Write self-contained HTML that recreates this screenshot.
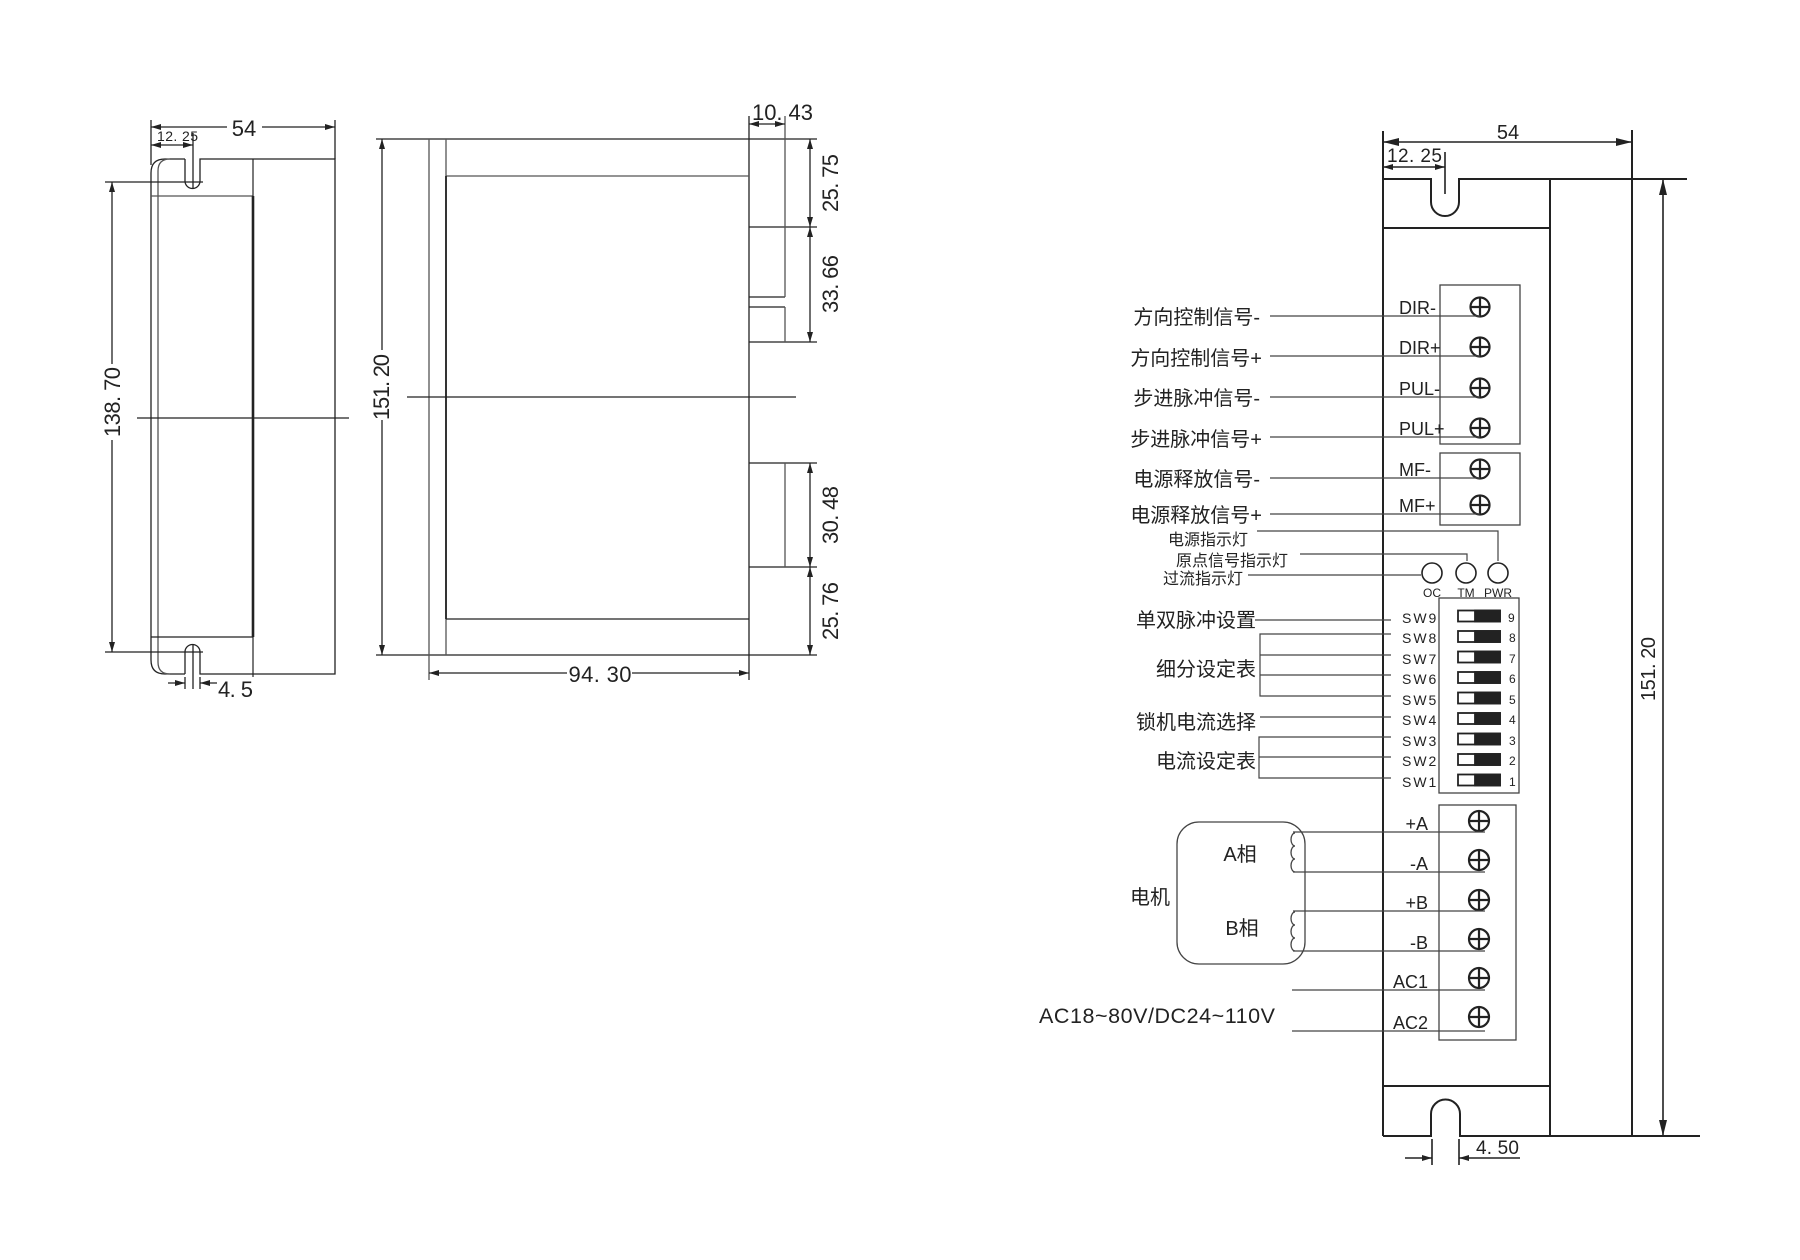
<!DOCTYPE html>
<html><head><meta charset="utf-8"><style>
html,body{margin:0;padding:0;background:#fff;}
svg{display:block}
text{font-family:"Liberation Sans","Noto Sans CJK SC",sans-serif;fill:#222}
.d{font-family:"Liberation Sans Narrow","Liberation Sans",sans-serif}
</style></head><body>
<svg width="1800" height="1260" viewBox="0 0 1800 1260" xmlns="http://www.w3.org/2000/svg">
<defs>
<marker id="a" viewBox="0 0 10 6" refX="10" refY="3" markerWidth="10" markerHeight="6" markerUnits="userSpaceOnUse" orient="auto-start-reverse"><path d="M0,0 L10,3 L0,6 z" fill="#222"/></marker>
<marker id="b" viewBox="0 0 16 8" refX="16" refY="4" markerWidth="16" markerHeight="8" markerUnits="userSpaceOnUse" orient="auto-start-reverse"><path d="M0,0 L16,4 L0,8 z" fill="#222"/></marker>
</defs>
<g fill="none" stroke="#222" stroke-width="1.3">
<!-- LEFT VIEW -->
<path d="M185,159 L165,159 Q151,159 151,173 L151,660 Q151,674 165,674 L185,674"/>
<path d="M170,159 Q158,159 158,171 L158,662 Q158,674 170,674" stroke="#555"/>
<path d="M185,159 L185,181 A7.5,7.5 0 0 0 200,181 L200,159 L335,159 L335,674 L200,674 L200,652 A7.5,7.5 0 0 0 185,652 L185,674"/>
<line x1="151" y1="196" x2="253" y2="196" stroke="#555"/>
<line x1="151" y1="637" x2="253" y2="637"/>
<line x1="253" y1="159" x2="253" y2="677" stroke-width="1.2"/>
<line x1="253" y1="196" x2="253" y2="637" stroke-width="2.6"/>
<line x1="193" y1="133" x2="193" y2="188"/>
<line x1="193" y1="645" x2="193" y2="689"/>
<line x1="151" y1="120" x2="151" y2="165"/>
<line x1="335" y1="120" x2="335" y2="159"/>
<line x1="151" y1="127" x2="227" y2="127" marker-start="url(#a)"/>
<line x1="262" y1="127" x2="335" y2="127" marker-end="url(#a)"/>
<line x1="151" y1="145" x2="193" y2="145" marker-start="url(#a)" marker-end="url(#a)"/>
<line x1="105" y1="182" x2="203" y2="182"/>
<line x1="105" y1="652" x2="203" y2="652"/>
<line x1="112" y1="182" x2="112" y2="364" marker-start="url(#a)"/>
<line x1="112" y1="440" x2="112" y2="652" marker-end="url(#a)"/>
<line x1="137" y1="418" x2="349" y2="418"/>
<line x1="168" y1="683" x2="185" y2="683" marker-end="url(#a)"/>
<line x1="217" y1="683" x2="200" y2="683" marker-end="url(#a)"/>
<line x1="185" y1="677" x2="185" y2="689"/>
<line x1="200" y1="677" x2="200" y2="689"/>

<!-- MIDDLE VIEW -->
<line x1="376" y1="139" x2="817" y2="139"/>
<line x1="376" y1="655" x2="817" y2="655"/>
<line x1="429" y1="139" x2="429" y2="680" stroke="#555"/>
<line x1="446" y1="139" x2="446" y2="655" stroke="#555"/>
<line x1="749" y1="116" x2="749" y2="680"/>
<line x1="446" y1="176" x2="749" y2="176" stroke="#555"/>
<line x1="446" y1="619" x2="749" y2="619"/>
<line x1="446" y1="176" x2="446" y2="619" stroke-width="1.8"/>
<line x1="407" y1="397" x2="796" y2="397"/>
<line x1="749" y1="227" x2="817" y2="227"/>
<line x1="749" y1="297" x2="785" y2="297"/>
<line x1="749" y1="307" x2="785" y2="307"/>
<line x1="749" y1="342" x2="817" y2="342"/>
<line x1="785" y1="116" x2="785" y2="297" stroke="#555"/>
<line x1="785" y1="307" x2="785" y2="342" stroke="#555"/>
<line x1="749" y1="463" x2="817" y2="463"/>
<line x1="749" y1="567" x2="817" y2="567"/>
<line x1="785" y1="463" x2="785" y2="567" stroke="#555"/>
<line x1="749" y1="124" x2="785" y2="124" marker-start="url(#a)" marker-end="url(#a)"/>
<line x1="810" y1="139" x2="810" y2="227" marker-start="url(#a)" marker-end="url(#a)"/>
<line x1="810" y1="227" x2="810" y2="342" marker-start="url(#a)" marker-end="url(#a)"/>
<line x1="810" y1="463" x2="810" y2="567" marker-start="url(#a)" marker-end="url(#a)"/>
<line x1="810" y1="567" x2="810" y2="655" marker-start="url(#a)" marker-end="url(#a)"/>
<line x1="382" y1="139" x2="382" y2="350" marker-start="url(#a)"/>
<line x1="382" y1="420" x2="382" y2="655" marker-end="url(#a)"/>
<line x1="429" y1="673" x2="567" y2="673" marker-start="url(#a)"/>
<line x1="632" y1="673" x2="749" y2="673" marker-end="url(#a)"/>

<!-- RIGHT VIEW -->
<path d="M1383,1136 L1383,179 L1431,179 L1431,202 A14,14 0 0 0 1459,202 L1459,179 L1687,179" stroke-width="2"/>
<path d="M1383,1136 L1431,1136 L1431,1114 A14.5,14.5 0 0 1 1460,1114 L1460,1136 L1700,1136" stroke-width="2"/>
<line x1="1383" y1="228" x2="1550" y2="228" stroke-width="2"/>
<line x1="1383" y1="1086" x2="1550" y2="1086" stroke-width="2"/>
<line x1="1550" y1="179" x2="1550" y2="1136" stroke-width="2"/>
<line x1="1632" y1="130" x2="1632" y2="1136" stroke-width="2"/>
<line x1="1663" y1="179" x2="1663" y2="1136" stroke-width="1.6" marker-start="url(#b)" marker-end="url(#b)"/>
<line x1="1383" y1="131" x2="1383" y2="179" stroke-width="2"/>
<line x1="1383" y1="142" x2="1632" y2="142" stroke-width="1.6" marker-start="url(#b)" marker-end="url(#b)"/>
<line x1="1445" y1="152" x2="1445" y2="194" stroke-width="1.6"/>
<line x1="1383" y1="167" x2="1445" y2="167" stroke-width="1.4" marker-start="url(#a)" marker-end="url(#a)"/>
<line x1="1432" y1="1139" x2="1432" y2="1165" stroke-width="1.6"/>
<line x1="1459" y1="1139" x2="1459" y2="1165" stroke-width="1.6"/>
<line x1="1405" y1="1158" x2="1432" y2="1158" stroke-width="1.6" marker-end="url(#a)"/>
<line x1="1520" y1="1158" x2="1459" y2="1158" stroke-width="1.6" marker-end="url(#a)"/>

<!-- terminal blocks -->
<rect x="1440" y="285" width="80" height="159" stroke="#444"/>
<rect x="1440" y="453" width="80" height="72" stroke="#444"/>
<rect x="1439" y="598" width="80" height="195" stroke="#444"/>
<rect x="1439" y="805" width="77" height="235" stroke="#444"/>
<g stroke-width="2.2">
<circle cx="1480" cy="307" r="9.5"/><path d="M1470.5,307 H1489.5 M1480,297.5 V316.5"/>
<circle cx="1480" cy="347" r="9.5"/><path d="M1470.5,347 H1489.5 M1480,337.5 V356.5"/>
<circle cx="1480" cy="388" r="9.5"/><path d="M1470.5,388 H1489.5 M1480,378.5 V397.5"/>
<circle cx="1480" cy="428" r="9.5"/><path d="M1470.5,428 H1489.5 M1480,418.5 V437.5"/>
<circle cx="1480" cy="469" r="9.5"/><path d="M1470.5,469 H1489.5 M1480,459.5 V478.5"/>
<circle cx="1480" cy="505" r="9.5"/><path d="M1470.5,505 H1489.5 M1480,495.5 V514.5"/>
<circle cx="1479" cy="821" r="10"/><path d="M1469,821 H1489 M1479,811 V831"/>
<circle cx="1479" cy="860" r="10"/><path d="M1469,860 H1489 M1479,850 V870"/>
<circle cx="1479" cy="900" r="10"/><path d="M1469,900 H1489 M1479,890 V910"/>
<circle cx="1479" cy="939" r="10"/><path d="M1469,939 H1489 M1479,929 V949"/>
<circle cx="1479" cy="978" r="10"/><path d="M1469,978 H1489 M1479,968 V988"/>
<circle cx="1479" cy="1017" r="10"/><path d="M1469,1017 H1489 M1479,1007 V1027"/>
</g>
<g stroke="#444" stroke-width="1.2">
<line x1="1270" y1="316" x2="1480" y2="316"/>
<line x1="1270" y1="356" x2="1480" y2="356"/>
<line x1="1270" y1="397" x2="1480" y2="397"/>
<line x1="1270" y1="437" x2="1480" y2="437"/>
<line x1="1270" y1="478" x2="1480" y2="478"/>
<line x1="1270" y1="514" x2="1480" y2="514"/>
<path d="M1257,531 H1498 V561"/>
<path d="M1300,554 H1467 V561"/>
<line x1="1248" y1="575" x2="1421" y2="575"/>
<line x1="1255" y1="620" x2="1391" y2="620"/>
<path d="M1391,634 H1260 V696 H1391 M1260,655 H1391 M1260,675 H1391"/>
<line x1="1260" y1="717" x2="1391" y2="717"/>
<path d="M1391,737 H1259 V778 H1391 M1259,757 H1391"/>
<line x1="1293" y1="832" x2="1485" y2="832"/>
<line x1="1293" y1="872" x2="1485" y2="872"/>
<line x1="1293" y1="911" x2="1485" y2="911"/>
<line x1="1293" y1="951" x2="1485" y2="951"/>
<line x1="1292" y1="990" x2="1485" y2="990"/>
<line x1="1292" y1="1031" x2="1485" y2="1031"/>
</g>
<g stroke-width="1.6">
<circle cx="1432" cy="573" r="10"/>
<circle cx="1466" cy="573" r="10"/>
<circle cx="1498" cy="573" r="10"/>
</g>
<rect x="1177" y="822" width="128" height="142" rx="22" stroke="#444"/>
<path d="M1295,833 a4,6.5 0 0 0 0,13 a4,6.5 0 0 0 0,13 a4,6.5 0 0 0 0,13" stroke="#444"/>
<path d="M1295,912 a4,6.5 0 0 0 0,13 a4,6.5 0 0 0 0,13 a4,6.5 0 0 0 0,13" stroke="#444"/>
</g>
<g stroke="#222" stroke-width="1.8">
<rect x="1458" y="610.5" width="42" height="11" fill="#fff"/><rect x="1475" y="610.5" width="25" height="11" fill="#222"/>
<rect x="1458" y="631" width="42" height="11" fill="#fff"/><rect x="1475" y="631" width="25" height="11" fill="#222"/>
<rect x="1458" y="651.5" width="42" height="11" fill="#fff"/><rect x="1475" y="651.5" width="25" height="11" fill="#222"/>
<rect x="1458" y="672" width="42" height="11" fill="#fff"/><rect x="1475" y="672" width="25" height="11" fill="#222"/>
<rect x="1458" y="692.5" width="42" height="11" fill="#fff"/><rect x="1475" y="692.5" width="25" height="11" fill="#222"/>
<rect x="1458" y="713" width="42" height="11" fill="#fff"/><rect x="1475" y="713" width="25" height="11" fill="#222"/>
<rect x="1458" y="733.5" width="42" height="11" fill="#fff"/><rect x="1475" y="733.5" width="25" height="11" fill="#222"/>
<rect x="1458" y="754" width="42" height="11" fill="#fff"/><rect x="1475" y="754" width="25" height="11" fill="#222"/>
<rect x="1458" y="774.5" width="42" height="11" fill="#fff"/><rect x="1475" y="774.5" width="25" height="11" fill="#222"/>
</g>

<text class="d" x="244" y="136" font-size="22" text-anchor="middle">54</text>
<text class="d" x="157" y="141" font-size="14" textLength="41">12. 25</text>
<text class="d" transform="translate(120,402) rotate(-90)" font-size="22" text-anchor="middle" textLength="70">138. 70</text>
<text class="d" x="218" y="697" font-size="22" textLength="35">4. 5</text>
<text class="d" x="752" y="120" font-size="22" textLength="61">10. 43</text>
<text class="d" transform="translate(838,183) rotate(-90)" font-size="22" text-anchor="middle" textLength="58">25. 75</text>
<text class="d" transform="translate(838,284) rotate(-90)" font-size="22" text-anchor="middle" textLength="58">33. 66</text>
<text class="d" transform="translate(838,515) rotate(-90)" font-size="22" text-anchor="middle" textLength="58">30. 48</text>
<text class="d" transform="translate(838,611) rotate(-90)" font-size="22" text-anchor="middle" textLength="58">25. 76</text>
<text class="d" transform="translate(389,387) rotate(-90)" font-size="22" text-anchor="middle" textLength="66">151. 20</text>
<text class="d" x="600" y="682" font-size="22" text-anchor="middle" textLength="63">94. 30</text>

<text class="d" x="1508" y="139" font-size="20" text-anchor="middle">54</text>
<text class="d" x="1387" y="162" font-size="19" textLength="55">12. 25</text>
<text class="d" x="1476" y="1154" font-size="19" textLength="43">4. 50</text>
<text class="d" transform="translate(1655,669) rotate(-90)" font-size="20" text-anchor="middle" textLength="64">151. 20</text>

<g font-size="18" class="d">
<text x="1399" y="314">DIR-</text>
<text x="1399" y="354">DIR+</text>
<text x="1399" y="395">PUL-</text>
<text x="1399" y="435">PUL+</text>
<text x="1399" y="476">MF-</text>
<text x="1399" y="512">MF+</text>
<text x="1428" y="830" text-anchor="end">+A</text>
<text x="1428" y="870" text-anchor="end">-A</text>
<text x="1428" y="909" text-anchor="end">+B</text>
<text x="1428" y="949" text-anchor="end">-B</text>
<text x="1428" y="988" text-anchor="end">AC1</text>
<text x="1428" y="1029" text-anchor="end">AC2</text>
</g>
<g font-size="12" text-anchor="middle">
<text x="1432" y="597">OC</text><text x="1466" y="597">TM</text><text x="1498" y="597">PWR</text>
</g>
<g font-size="14" letter-spacing="2">
<text x="1402" y="623">SW9</text><text x="1402" y="643">SW8</text><text x="1402" y="664">SW7</text>
<text x="1402" y="684">SW6</text><text x="1402" y="705">SW5</text><text x="1402" y="725">SW4</text>
<text x="1402" y="746">SW3</text><text x="1402" y="766">SW2</text><text x="1402" y="787">SW1</text>
</g>
<g font-size="12">
<text x="1508" y="622">9</text><text x="1509" y="642">8</text><text x="1509" y="663">7</text>
<text x="1509" y="683">6</text><text x="1509" y="704">5</text><text x="1509" y="724">4</text>
<text x="1509" y="745">3</text><text x="1509" y="765">2</text><text x="1509" y="786">1</text>
</g>
<g font-size="20" text-anchor="end">
<text x="1260" y="324">方向控制信号-</text>
<text x="1262" y="365">方向控制信号+</text>
<text x="1260" y="405">步进脉冲信号-</text>
<text x="1262" y="446">步进脉冲信号+</text>
<text x="1260" y="486">电源释放信号-</text>
<text x="1262" y="522">电源释放信号+</text>
<text x="1256" y="627">单双脉冲设置</text>
<text x="1256" y="676">细分设定表</text>
<text x="1256" y="729">锁机电流选择</text>
<text x="1256" y="768">电流设定表</text>
</g>
<g font-size="16" text-anchor="end">
<text x="1248" y="545">电源指示灯</text>
<text x="1288" y="566">原点信号指示灯</text>
<text x="1243" y="584">过流指示灯</text>
</g>
<g font-size="20" text-anchor="middle">
<text x="1240" y="861">A相</text>
<text x="1242" y="935">B相</text>
<text x="1150" y="904">电机</text>
</g>
<text x="1039" y="1023" font-size="21.5" textLength="236">AC18~80V/DC24~110V</text>
</svg>
</body></html>
